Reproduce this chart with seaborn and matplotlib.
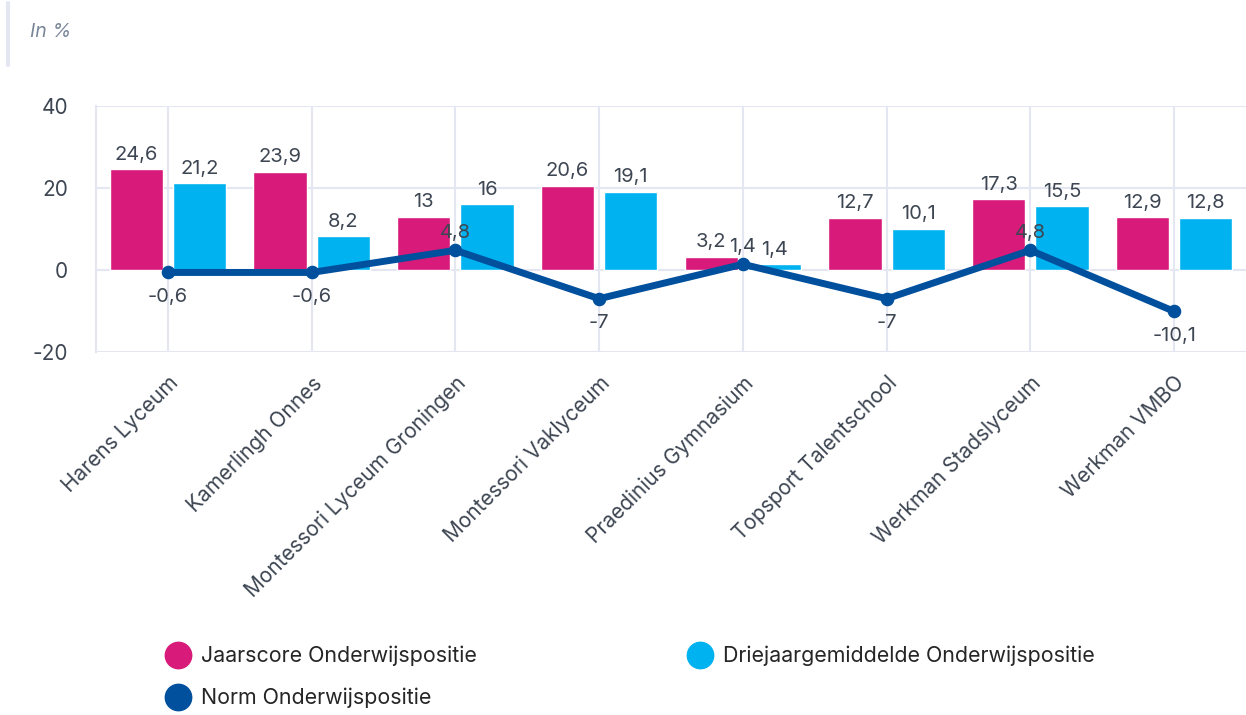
import numpy as np
import pandas as pd
import matplotlib
matplotlib.use("Agg")
import matplotlib.pyplot as plt
import seaborn as sns
from matplotlib.lines import Line2D

# --- data ---
schools = ["Harens Lyceum", "Kamerlingh Onnes", "Montessori Lyceum Groningen",
           "Montessori Vaklyceum", "Praedinius Gymnasium", "Topsport Talentschool",
           "Werkman Stadslyceum", "Werkman VMBO"]
jaarscore = [24.6, 23.9, 13, 20.6, 3.2, 12.7, 17.3, 12.9]
driejaar = [21.2, 8.2, 16, 19.1, 1.4, 10.1, 15.5, 12.8]
norm = [-0.6, -0.6, 4.8, -7, 1.4, -7, 4.8, -10.1]
yticks = [-20, 0, 20, 40]

series_names = ["Jaarscore Onderwijspositie", "Driejaargemiddelde Onderwijspositie",
                "Norm Onderwijspositie"]

PINK = "#d81b7a"
CYAN = "#00b2ef"
NAVY = "#00509e"
GRID = "#e4e7f2"
TXT = "#3d4652"

def fmt(v):
    return f"{v:g}".replace(".", ",")

sns.set_theme(style="white")
plt.rcParams["font.family"] = ["Inter", "DejaVu Sans"]

df = pd.DataFrame({
    "school": schools * 2,
    "waarde": jaarscore + driejaar,
    "reeks": [series_names[0]] * len(schools) + [series_names[1]] * len(schools),
})

fig = plt.figure(figsize=(12.46, 7.15), dpi=100)
ax = fig.add_axes([96 / 1246, 1 - 352 / 715, 1150 / 1246, 246 / 715])

sns.barplot(data=df, x="school", y="waarde", hue="reeks", order=schools,
            hue_order=series_names[:2], palette=[PINK, CYAN], saturation=1,
            width=0.88, gap=0.16, legend=False, ax=ax, zorder=2)

for cont in ax.containers:
    ax.bar_label(cont, labels=[fmt(b.get_height()) for b in cont],
                 padding=4, fontsize=14.5, color=TXT)

sns.pointplot(x=schools, y=norm, color=NAVY, markers="o", markersize=6,
              linewidth=5, ax=ax, zorder=3)

for i, v in enumerate(norm):
    if v > 0:
        ax.annotate(fmt(v), (i, v), xytext=(0, 6), textcoords="offset points",
                    ha="center", va="bottom", fontsize=14.5, color=TXT, zorder=4)
    else:
        ax.annotate(fmt(v), (i, v), xytext=(0, -11), textcoords="offset points",
                    ha="center", va="top", fontsize=14.5, color=TXT, zorder=4)

ax.set_xlim(-0.5, 7.5)
ax.set_ylim(-20, 40)
ax.set_yticks(yticks)
ax.set_yticklabels([str(t) for t in yticks], fontsize=15, color=TXT)
ax.set_xlabel("")
ax.set_ylabel("")
ax.grid(True, color=GRID, linewidth=1.5, zorder=0)
ax.set_axisbelow(True)
for s in ["top", "right", "bottom"]:
    ax.spines[s].set_visible(False)
ax.spines["left"].set_color(GRID)
ax.spines["left"].set_linewidth(1.5)
ax.tick_params(axis="both", length=9, width=1.5, color=GRID, pad=6)
ax.tick_params(axis="y", length=12, pad=8)
ax.set_xticks(range(len(schools)))
ax.set_xticklabels(schools, rotation=45, ha="right", rotation_mode="anchor",
                   fontsize=15, color=TXT)

# "In %" unit label with bar
fig.text(30 / 1246, 1 - 32 / 715, "In %", fontsize=14, style="italic",
         color="#7a8799", va="center")
fig.add_artist(Line2D([8 / 1246, 8 / 1246], [1 - 3 / 715, 1 - 65 / 715],
                      color=GRID, linewidth=3))

handles = [Line2D([], [], marker="o", linestyle="", markersize=19, color=c)
           for c in [PINK, NAVY, CYAN]]
fig.legend(handles, [series_names[0], series_names[2], series_names[1]],
           ncol=2, loc="upper left", bbox_to_anchor=(167 / 1246, 1 - 646 / 715),
           frameon=False, fontsize=15.4, handlelength=1, handletextpad=0.6,
           columnspacing=9.9, labelspacing=1.0, borderaxespad=0, borderpad=0)

fig.savefig("out.png", dpi=100)
